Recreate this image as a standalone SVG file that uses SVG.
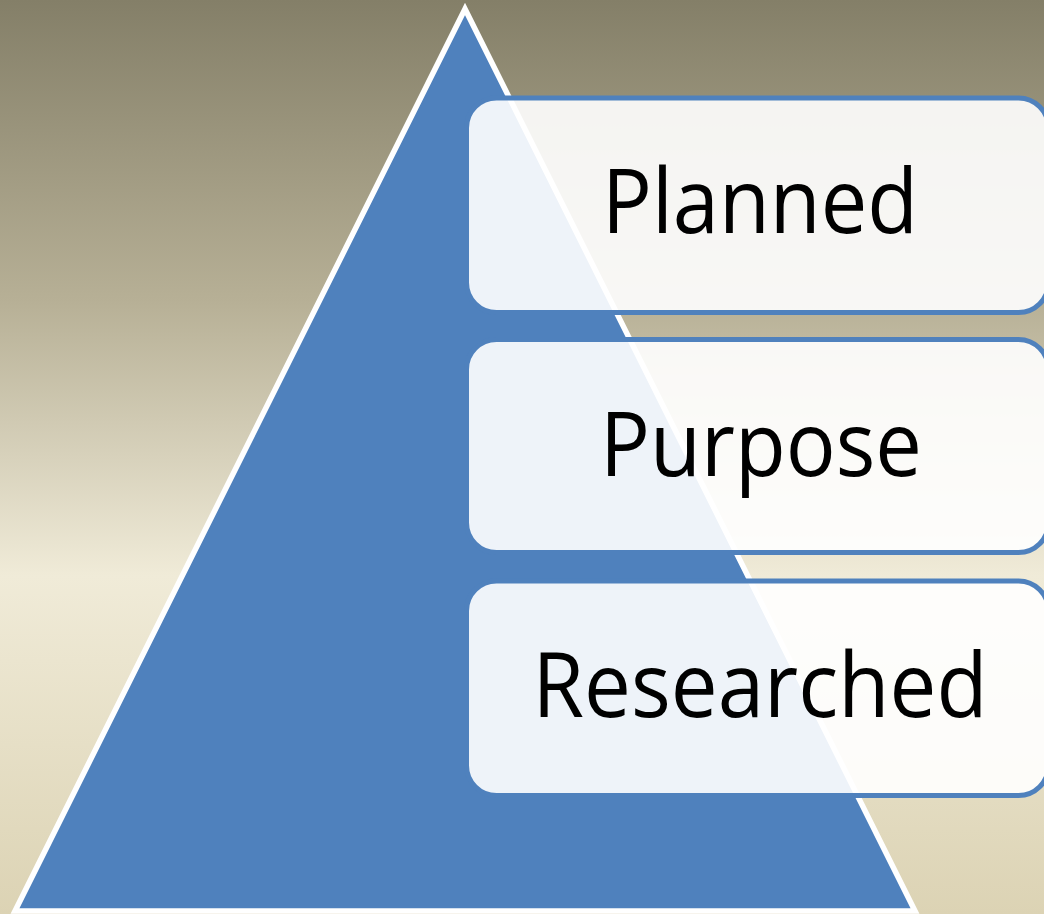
<svg xmlns="http://www.w3.org/2000/svg" width="1044" height="914" viewBox="0 0 1044 914">
  <defs>
    <linearGradient id="bg" x1="0" y1="0" x2="0" y2="914" gradientUnits="userSpaceOnUse">
      <stop offset="0" stop-color="#847f68"/>
      <stop offset="0.33" stop-color="#b7b096"/>
      <stop offset="0.63" stop-color="#f0ebd8"/>
      <stop offset="1" stop-color="#dcd3b4"/>
    </linearGradient>
    <style>
      .box { fill: #ffffff; fill-opacity: 0.9; stroke: #4f81bd; stroke-width: 5; }
      .lbl { font-family: "Open Sans", "Noto Sans", "Liberation Sans", sans-serif; font-size: 90px; fill: #000000; text-anchor: middle; }
    </style>
  </defs>
  <rect x="0" y="0" width="1044" height="914" fill="url(#bg)"/>
  <g id="pyramid">
    <polygon points="465,9 15,911 915,911" fill="#4f81bd" stroke="#ffffff" stroke-width="5.5" stroke-linejoin="miter"/>
  </g>
  <g id="node-planned">
    <rect class="box" x="466.5" y="98" width="582" height="214.5" rx="30" ry="30"/>
    <text class="lbl" x="760" y="233" textLength="316" lengthAdjust="spacingAndGlyphs">Planned</text>
  </g>
  <g id="node-purpose">
    <rect class="box" x="466.5" y="339.5" width="582" height="213" rx="30" ry="30"/>
    <text class="lbl" x="761" y="476" textLength="322" lengthAdjust="spacingAndGlyphs">Purpose</text>
  </g>
  <g id="node-researched">
    <rect class="box" x="466.5" y="581" width="582" height="214.5" rx="30" ry="30"/>
    <text class="lbl" x="760" y="717" textLength="455" lengthAdjust="spacingAndGlyphs">Researched</text>
  </g>
  <g id="connectors"/>
</svg>
